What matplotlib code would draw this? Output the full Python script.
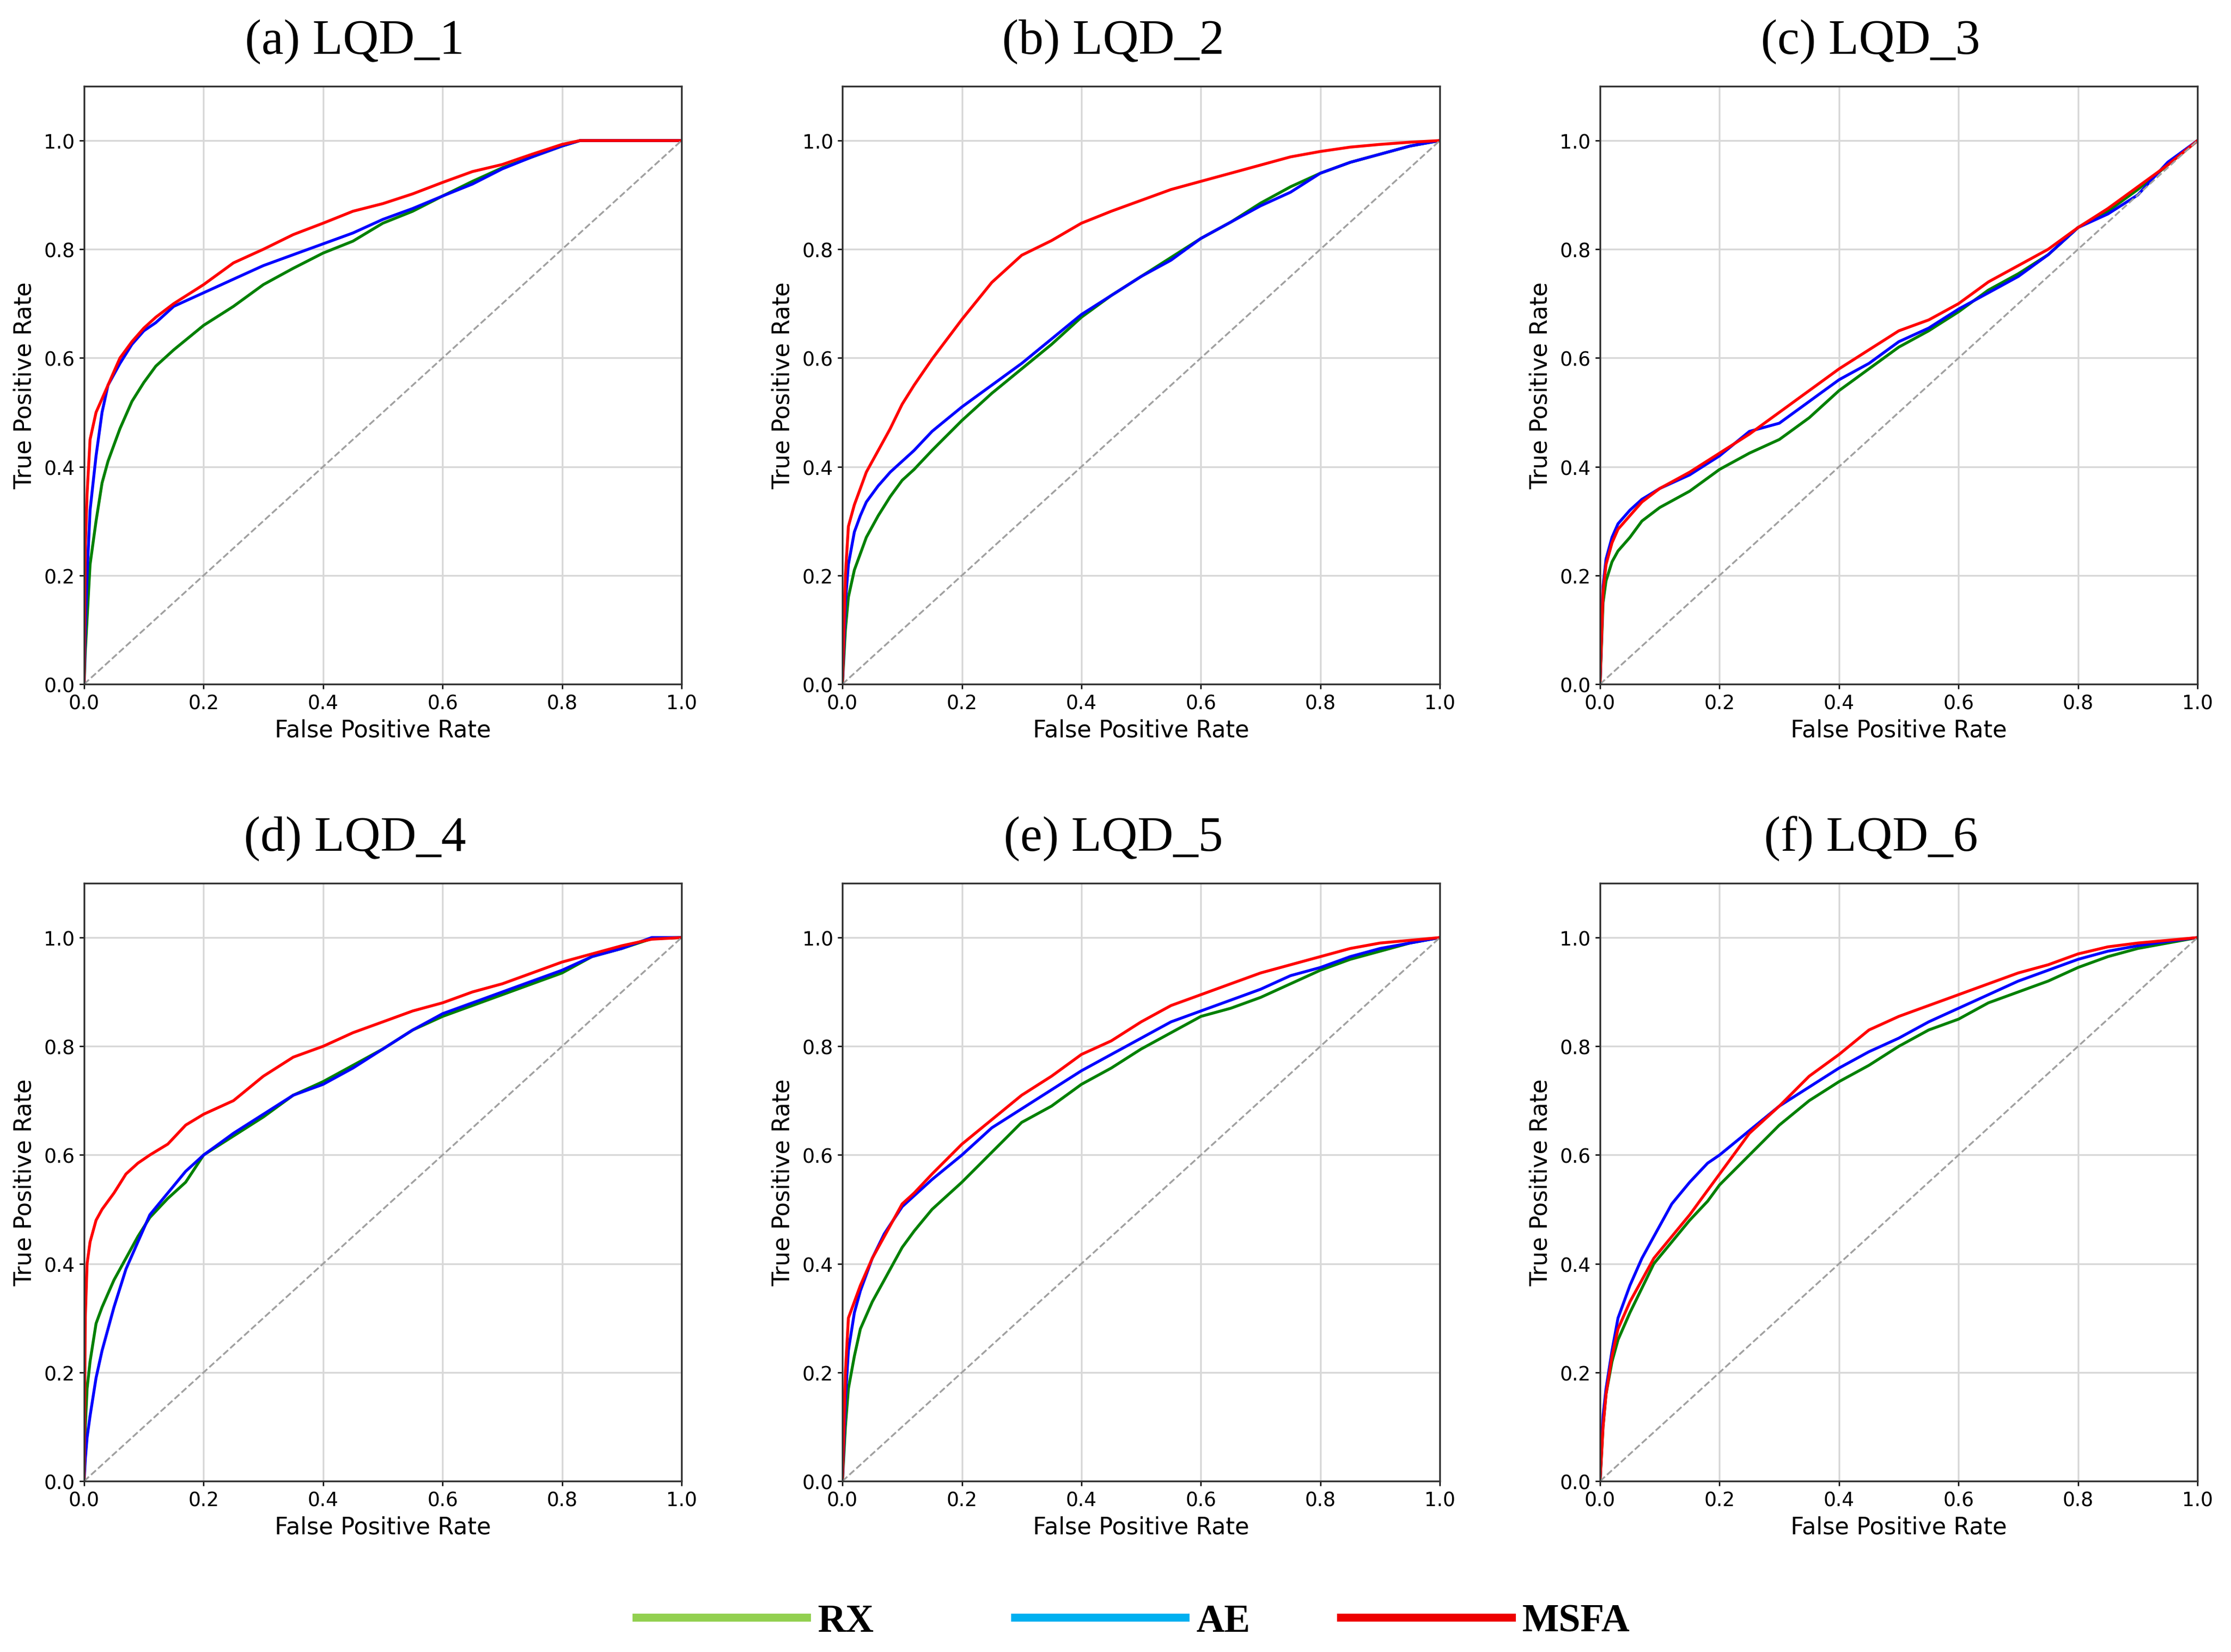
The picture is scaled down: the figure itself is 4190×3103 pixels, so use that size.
import numpy as np
import matplotlib
matplotlib.use("Agg")
import matplotlib.pyplot as plt
from matplotlib.lines import Line2D

# ROC curves: fpr grid per panel, tpr for RX / AE / MSFA
titles = ['(a) LQD_1', '(b) LQD_2', '(c) LQD_3', '(d) LQD_4', '(e) LQD_5', '(f) LQD_6']
methods = ['RX', 'AE', 'MSFA']

fpr_a = [0, 0.002, 0.005, 0.01, 0.02, 0.03, 0.04, 0.06, 0.08, 0.1, 0.12, 0.15, 0.2, 0.25, 0.3,
         0.35, 0.4, 0.45, 0.5, 0.55, 0.6, 0.65, 0.7, 0.75, 0.8, 0.83, 1.0]
rx_a = [0, 0.06, 0.12, 0.22, 0.30, 0.37, 0.41, 0.47, 0.52, 0.555, 0.585, 0.615, 0.66, 0.695, 0.735,
        0.765, 0.793, 0.815, 0.848, 0.87, 0.898, 0.925, 0.95, 0.97, 0.99, 1.0, 1.0]
ae_a = [0, 0.10, 0.20, 0.32, 0.42, 0.50, 0.55, 0.59, 0.625, 0.65, 0.665, 0.695, 0.72, 0.745, 0.77,
        0.79, 0.81, 0.83, 0.855, 0.875, 0.898, 0.92, 0.948, 0.97, 0.99, 1.0, 1.0]
msfa_a = [0, 0.25, 0.35, 0.45, 0.50, 0.525, 0.55, 0.60, 0.63, 0.655, 0.675, 0.70, 0.735, 0.775, 0.80,
          0.827, 0.848, 0.87, 0.884, 0.902, 0.923, 0.943, 0.956, 0.975, 0.993, 1.0, 1.0]

fpr_b = [0, 0.005, 0.01, 0.02, 0.03, 0.04, 0.06, 0.08, 0.1, 0.12, 0.15, 0.2, 0.25, 0.3, 0.35, 0.4,
         0.45, 0.5, 0.55, 0.6, 0.65, 0.7, 0.75, 0.8, 0.85, 0.9, 0.95, 1.0]
rx_b = [0, 0.10, 0.16, 0.21, 0.24, 0.27, 0.31, 0.345, 0.375, 0.395, 0.43, 0.485, 0.535, 0.58, 0.625,
        0.675, 0.715, 0.75, 0.785, 0.82, 0.85, 0.885, 0.915, 0.94, 0.96, 0.975, 0.99, 1.0]
ae_b = [0, 0.15, 0.22, 0.28, 0.31, 0.335, 0.365, 0.39, 0.41, 0.43, 0.465, 0.51, 0.55, 0.59, 0.635,
        0.68, 0.715, 0.75, 0.78, 0.82, 0.85, 0.88, 0.905, 0.94, 0.96, 0.975, 0.99, 1.0]
msfa_b = [0, 0.20, 0.29, 0.33, 0.36, 0.39, 0.43, 0.47, 0.515, 0.55, 0.598, 0.671, 0.739, 0.789, 0.816,
          0.848, 0.87, 0.89, 0.91, 0.925, 0.94, 0.955, 0.97, 0.98, 0.988, 0.993, 0.997, 1.0]

fpr_c = [0, 0.005, 0.01, 0.02, 0.03, 0.05, 0.07, 0.1, 0.15, 0.2, 0.25, 0.3, 0.35, 0.4, 0.45, 0.5,
         0.55, 0.6, 0.65, 0.7, 0.75, 0.8, 0.85, 0.9, 0.95, 1.0]
rx_c = [0, 0.15, 0.19, 0.225, 0.245, 0.27, 0.30, 0.325, 0.355, 0.395, 0.425, 0.45, 0.49, 0.54, 0.58,
        0.62, 0.65, 0.685, 0.725, 0.755, 0.79, 0.84, 0.87, 0.91, 0.955, 1.0]
ae_c = [0, 0.18, 0.23, 0.27, 0.295, 0.32, 0.34, 0.36, 0.385, 0.42, 0.465, 0.48, 0.52, 0.56, 0.59,
        0.63, 0.655, 0.69, 0.72, 0.75, 0.79, 0.84, 0.865, 0.90, 0.96, 1.0]
msfa_c = [0, 0.17, 0.22, 0.26, 0.285, 0.31, 0.335, 0.36, 0.39, 0.425, 0.46, 0.50, 0.54, 0.58, 0.615,
          0.65, 0.67, 0.70, 0.74, 0.77, 0.80, 0.84, 0.875, 0.915, 0.955, 1.0]

fpr_d = [0, 0.002, 0.005, 0.01, 0.02, 0.03, 0.05, 0.07, 0.09, 0.11, 0.14, 0.17, 0.2, 0.25, 0.3, 0.35,
         0.4, 0.45, 0.5, 0.55, 0.6, 0.65, 0.7, 0.75, 0.8, 0.85, 0.9, 0.95, 1.0]
rx_d = [0, 0.10, 0.17, 0.22, 0.29, 0.32, 0.37, 0.41, 0.45, 0.485, 0.52, 0.55, 0.60, 0.635, 0.67, 0.71,
        0.735, 0.765, 0.795, 0.83, 0.855, 0.875, 0.895, 0.915, 0.935, 0.965, 0.98, 0.998, 1.0]
ae_d = [0, 0.04, 0.08, 0.12, 0.19, 0.24, 0.32, 0.39, 0.44, 0.49, 0.53, 0.57, 0.60, 0.64, 0.675, 0.71,
        0.73, 0.76, 0.795, 0.83, 0.86, 0.88, 0.90, 0.92, 0.94, 0.965, 0.98, 1.0, 1.0]
msfa_d = [0, 0.30, 0.40, 0.44, 0.48, 0.50, 0.53, 0.565, 0.585, 0.60, 0.62, 0.655, 0.675, 0.70, 0.745, 0.78,
          0.80, 0.825, 0.845, 0.865, 0.88, 0.90, 0.915, 0.935, 0.955, 0.97, 0.985, 0.997, 1.0]

fpr_e = [0, 0.005, 0.01, 0.02, 0.03, 0.05, 0.07, 0.1, 0.12, 0.15, 0.2, 0.25, 0.3, 0.35, 0.4, 0.45,
         0.5, 0.55, 0.6, 0.65, 0.7, 0.75, 0.8, 0.85, 0.9, 0.95, 1.0]
rx_e = [0, 0.10, 0.17, 0.23, 0.28, 0.33, 0.37, 0.43, 0.46, 0.50, 0.55, 0.605, 0.66, 0.69, 0.73, 0.76,
        0.795, 0.825, 0.855, 0.87, 0.89, 0.915, 0.94, 0.96, 0.975, 0.99, 1.0]
ae_e = [0, 0.15, 0.24, 0.31, 0.35, 0.41, 0.455, 0.505, 0.525, 0.555, 0.60, 0.65, 0.685, 0.72, 0.755, 0.785,
        0.815, 0.845, 0.865, 0.885, 0.905, 0.93, 0.945, 0.965, 0.98, 0.99, 1.0]
msfa_e = [0, 0.20, 0.30, 0.33, 0.36, 0.41, 0.45, 0.51, 0.53, 0.565, 0.62, 0.665, 0.71, 0.745, 0.785, 0.81,
          0.845, 0.875, 0.895, 0.915, 0.935, 0.95, 0.965, 0.98, 0.99, 0.995, 1.0]

fpr_f = [0, 0.005, 0.01, 0.02, 0.03, 0.05, 0.07, 0.09, 0.12, 0.15, 0.18, 0.2, 0.25, 0.3, 0.35, 0.4,
         0.45, 0.5, 0.55, 0.6, 0.65, 0.7, 0.75, 0.8, 0.85, 0.9, 0.95, 1.0]
rx_f = [0, 0.10, 0.16, 0.22, 0.26, 0.31, 0.355, 0.40, 0.44, 0.48, 0.515, 0.545, 0.60, 0.655, 0.70, 0.735,
        0.765, 0.80, 0.83, 0.85, 0.88, 0.90, 0.92, 0.945, 0.965, 0.98, 0.99, 1.0]
ae_f = [0, 0.12, 0.17, 0.24, 0.30, 0.36, 0.41, 0.45, 0.51, 0.55, 0.585, 0.60, 0.645, 0.69, 0.725, 0.76,
        0.79, 0.815, 0.845, 0.87, 0.895, 0.92, 0.94, 0.96, 0.975, 0.985, 0.993, 1.0]
msfa_f = [0, 0.10, 0.16, 0.23, 0.28, 0.33, 0.37, 0.41, 0.45, 0.49, 0.535, 0.565, 0.64, 0.69, 0.745, 0.785,
          0.83, 0.855, 0.875, 0.895, 0.915, 0.935, 0.95, 0.97, 0.983, 0.99, 0.995, 1.0]

panels = [
    (fpr_a, rx_a, ae_a, msfa_a),
    (fpr_b, rx_b, ae_b, msfa_b),
    (fpr_c, rx_c, ae_c, msfa_c),
    (fpr_d, rx_d, ae_d, msfa_d),
    (fpr_e, rx_e, ae_e, msfa_e),
    (fpr_f, rx_f, ae_f, msfa_f),
]

curve_colors = ['green', 'blue', 'red']
legend_colors = ['#92D050', '#00B0F0', '#EE0000']

fig = plt.figure(figsize=(4190 / 300, 3104 / 300), dpi=300)

lefts = [0.0377, 0.3776, 0.7172]
bottoms = [0.5857, 0.1034]
w, h = 0.2678, 0.3618

for i, (fpr, rx, ae, msfa) in enumerate(panels):
    ax = fig.add_axes([lefts[i % 3], bottoms[i // 3], w, h])
    for tpr, c in zip([rx, ae, msfa], curve_colors):
        ax.plot(fpr, tpr, color=c, lw=1.3)
    ax.plot([0, 1], [0, 1], ls='--', color='#a0a0a0', lw=0.8)
    ax.set_xlim(0, 1)
    ax.set_ylim(0, 1.1)
    ax.set_xticks(np.arange(0, 1.01, 0.2))
    ax.set_yticks(np.arange(0, 1.01, 0.2))
    ax.grid(True, color='#d8d8d8', lw=0.8)
    ax.set_axisbelow(True)
    ax.tick_params(labelsize=8.8, length=2.2, width=0.6, pad=2)
    for sp in ax.spines.values():
        sp.set_linewidth(0.8)
        sp.set_color('#333333')
    ax.set_xlabel('False Positive Rate', fontsize=10.5, labelpad=2.5)
    ax.set_ylabel('True Positive Rate', fontsize=10.5, labelpad=3.5)
    # titles sit a little left of the axes centre in the original
    ax.text(0.453, 1.075, titles[i], transform=ax.transAxes, ha='center', va='center',
            fontsize=22.4, family='Liberation Serif')

# separate legend entries along the bottom
leg_x = [0.2852, 0.4549, 0.6010]
for name, c, x in zip(methods, legend_colors, leg_x):
    fig.legend(handles=[Line2D([], [], color=c, lw=3.6)], labels=[name],
               loc='center left', bbox_to_anchor=(x, 0.0184), frameon=False,
               borderpad=0, borderaxespad=0, handlelength=4.37, handletextpad=0.27,
               prop={'family': 'Liberation Serif', 'weight': 'bold', 'size': 17.6})

fig.savefig('out.png', dpi=300)
